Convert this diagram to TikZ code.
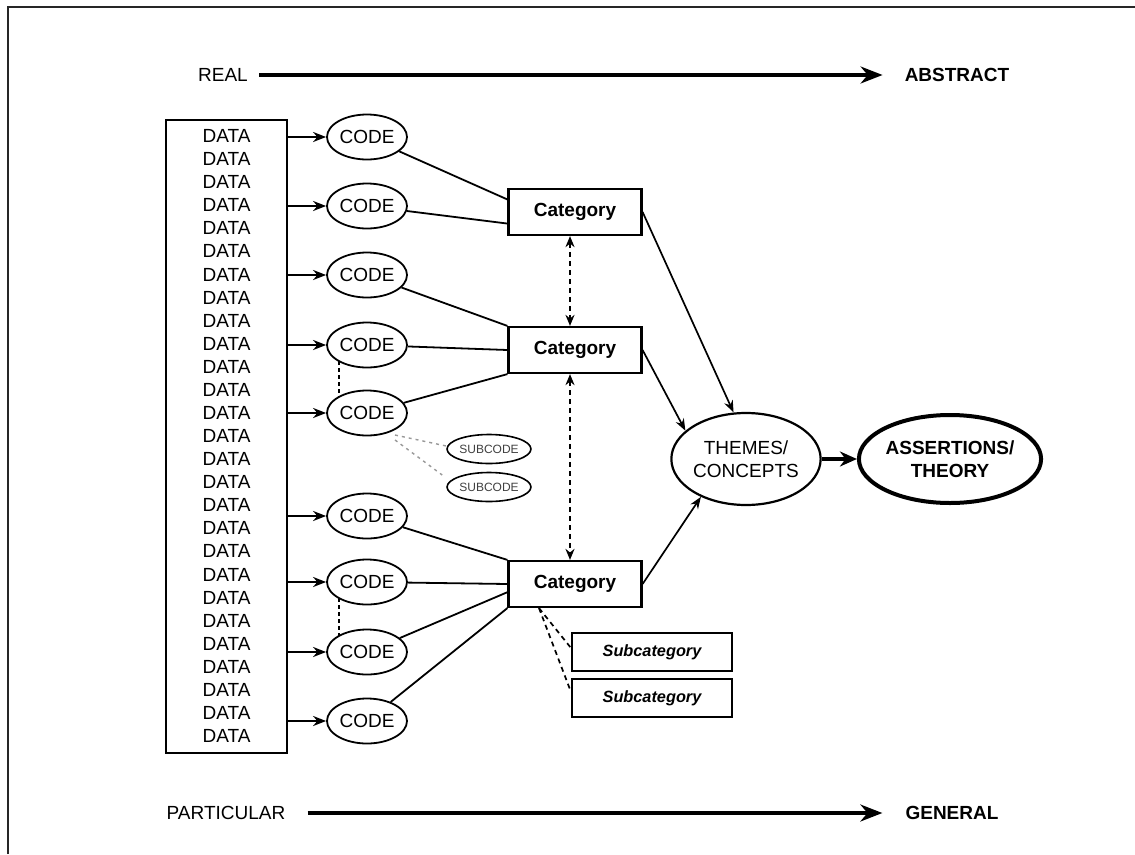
\documentclass[tikz,border=0pt]{standalone}
\usepackage{fontspec}
\setmainfont{Liberation Sans}
\usetikzlibrary{arrows.meta,shapes.geometric,calc}
\begin{document}
\begin{tikzpicture}[x=1pt,y=-1pt,
  txt/.style={font=\fontsize{19}{23}\selectfont, inner sep=0pt, align=center},
  databox/.style={draw, line width=2.2pt, minimum width=121pt, minimum height=633pt, inner sep=0pt},
  codeE/.style={ellipse, draw, line width=1.8pt, minimum width=80pt, minimum height=45pt, inner sep=0pt, font=\fontsize{19}{23}\selectfont},
  subcodeE/.style={ellipse, draw, line width=1.6pt, minimum width=80pt, minimum height=29pt, inner sep=0pt, font=\fontsize{12}{14}\selectfont, text=black!75},
  catbox/.style={draw, line width=2.2pt, minimum width=133pt, minimum height=46pt, inner sep=0pt, font=\fontsize{19}{23}\selectfont\bfseries},
  subbox/.style={draw, line width=2pt, minimum width=160pt, minimum height=38pt, inner sep=0pt, font=\fontsize{16.3}{20}\selectfont\bfseries\itshape},
  conn/.style={line width=1.8pt},
  darr/.style={line width=2.2pt, -{Stealth[length=13pt,width=10pt]}},
  catarr/.style={line width=1.7pt, -{Stealth[length=12pt,width=9pt]}},
  dasharr/.style={line width=1.8pt, dash pattern=on 5pt off 4pt, {Stealth[length=11pt,width=9pt]}-{Stealth[length=11pt,width=9pt]}},
  subconn/.style={line width=1.7pt, dash pattern=on 5pt off 4pt},
  graydot/.style={line width=1.4pt, black!40, dash pattern=on 3pt off 4pt},
  axisarr/.style={line width=3.2pt, -{Stealth[length=22pt,width=17pt]}},
  frame/.style={line width=2pt, black!85}
]
\useasboundingbox (0,0) rectangle (1135,854);
\draw[frame] (8,854) -- (8,7) -- (1135,7);

% axes
\node[txt] (real) at (223,75) {REAL};
\node[txt, font=\fontsize{19}{23}\selectfont\bfseries] (abstract) at (957,75) {ABSTRACT};
\draw[axisarr] ([xshift=11pt]real.east) -- ([xshift=-22pt]abstract.west);
\node[txt] (particular) at (226,813) {PARTICULAR};
\node[txt, font=\fontsize{19}{23}\selectfont\bfseries] (general) at (952,813) {GENERAL};
\draw[axisarr] ([xshift=22pt]particular.east) -- ([xshift=-23pt]general.west);

% data column
\node[databox] (data) at (226.5,436.5) {};
\foreach \i in {0,...,26}
  \node[txt] (d\i) at (226.5,{136+23.08*\i}) {DATA};

% codes
\foreach \n/\y in {1/137,2/206,3/275,4/345,5/413,6/516,7/582,8/652,9/721}
  \node[codeE] (c\n) at (367,\y) {CODE};
\foreach \n in {1,...,9}
  \draw[darr] (data.east |- c\n) -- (c\n.west);

% code links
\draw[conn, dash pattern=on 4pt off 3pt] ($(c4)+(-28,16)$) -- ($(c5)+(-28,-16)$);
\draw[conn, dash pattern=on 4pt off 3pt] ($(c7)+(-28,16)$) -- ($(c8)+(-28,-16)$);

% subcodes
\node[subcodeE] (sc1) at (489,449) {SUBCODE};
\node[subcodeE] (sc2) at (489,487) {SUBCODE};
\draw[graydot] ($(c5)+(28,22)$) -- ($(sc1.west)+(0,-3)$);
\draw[graydot] ($(c5)+(28,27)$) -- ($(sc2.west)+(-4,-12)$);

% categories
\node[catbox] (cat1) at (575,212) {Category};
\node[catbox] (cat2) at (575,350) {Category};
\node[catbox] (cat3) at (575,584) {Category};

\draw[conn] (c1) -- ($(cat1.north west)!0.24!(cat1.south west)$);
\draw[conn] (c2) -- ($(cat1.north west)!0.74!(cat1.south west)$);
\draw[conn] (c3) -- (cat2.north west);
\draw[conn] (c4) -- (cat2.west);
\draw[conn] (c5) -- (cat2.south west);
\draw[conn] (c6) -- (cat3.north west);
\draw[conn] (c7) -- (cat3.west);
\draw[conn] (c8) -- ($(cat3.north west)!0.67!(cat3.south west)$);
\draw[conn] (c9) -- (cat3.south west);

\draw[dasharr] ([xshift=-5pt]cat1.south) -- ([xshift=-5pt]cat2.north);
\draw[dasharr] ([xshift=-5pt]cat2.south) -- ([xshift=-5pt]cat3.north);

% subcategories
\node[subbox] (sub1) at (652,652) {Subcategory};
\node[subbox] (sub2) at (652,698) {Subcategory};
\draw[subconn] ([xshift=-36pt]cat3.south) -- ([yshift=4pt]sub1.west);
\draw[subconn] ([xshift=-36pt]cat3.south) -- ([yshift=6pt]sub2.west);

% themes and theory
\node[ellipse, draw, line width=2.2pt, minimum width=133pt, minimum height=92pt, inner sep=0pt, txt] (themes) at (746,459) {THEMES/\\CONCEPTS};
\node[ellipse, draw, line width=4pt, minimum width=174pt, minimum height=88pt, inner sep=0pt, txt, font=\fontsize{19}{23}\selectfont\bfseries] (theory) at (950,459) {ASSERTIONS/\\THEORY};

\draw[catarr] (cat1.east) -- (themes.105);
\draw[catarr] (cat2.east) -- (themes.155);
\draw[catarr] (cat3.east) -- (themes.220);
\draw[line width=4pt, -{Stealth[length=17pt,width=15pt]}] (themes) -- (theory);
\end{tikzpicture}
\end{document}
